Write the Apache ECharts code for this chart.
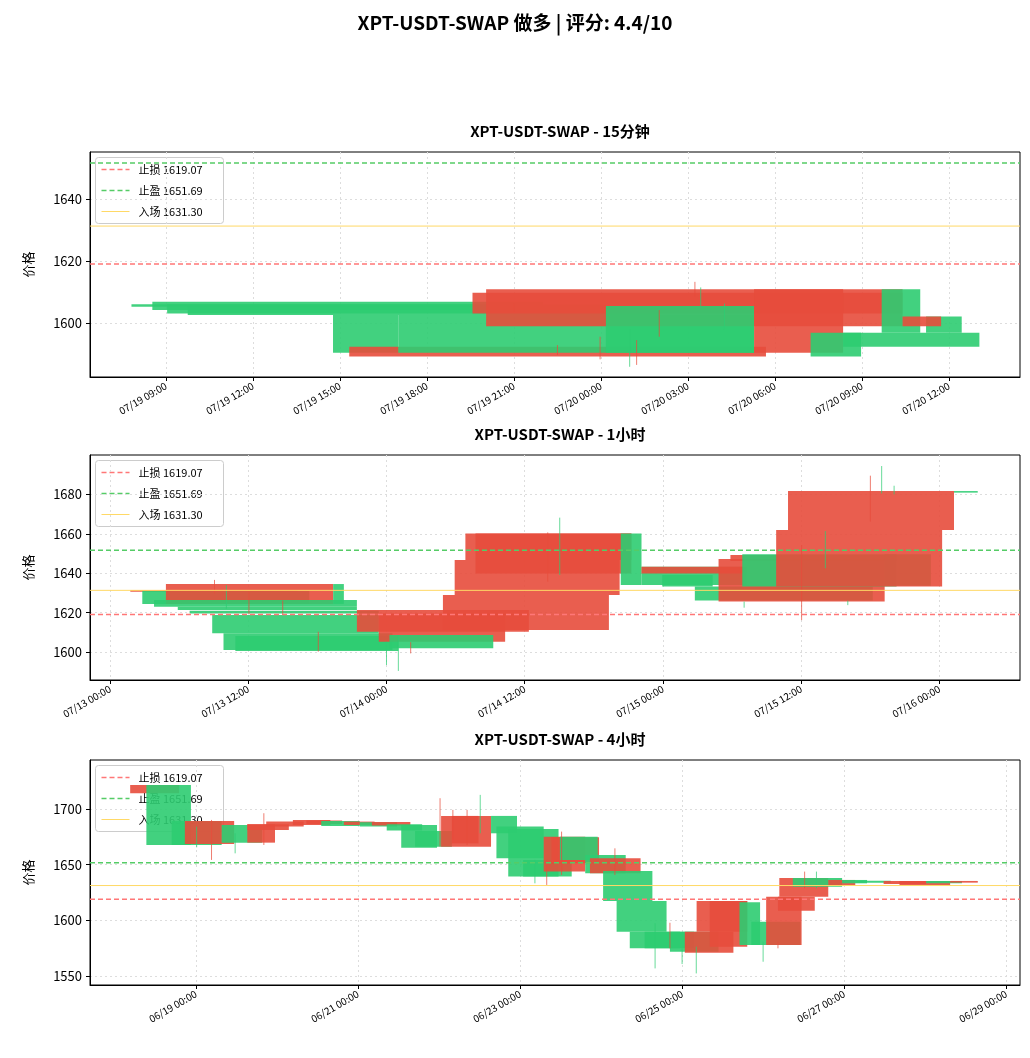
<!DOCTYPE html>
<html>
<head>
<meta charset="utf-8">
<script src="https://cdn.jsdelivr.net/npm/echarts@6/dist/echarts.min.js"></script>
<style>
  html, body { margin: 0; padding: 0; background: #fff; }
  #main { width: 1030px; height: 1058px; }
</style>
</head>
<body>
<div id="main"></div>
<script>
/**
 * 数据（时间单位：小时，相对各面板基准时间）
 */
var TITLE = 'XPT-USDT-SWAP 做多 | 评分: 4.4/10';
var panelTitles = ['XPT-USDT-SWAP - 15分钟', 'XPT-USDT-SWAP - 1小时', 'XPT-USDT-SWAP - 4小时'];
var baseTimes = [Date.UTC(2025, 6, 19, 9, 0), Date.UTC(2025, 6, 13, 0, 0), Date.UTC(2025, 5, 19, 0, 0)];
var stopLoss = 1619.07, takeProfit = 1651.69, entry = 1631.30;

// [开始小时, 结束小时, 开盘, 收盘]
var candles15m = [
  [-1.19, 10.57, 1605.3, 1606.1], [-0.47, 13.0, 1604.2, 1606.9], [0.04, 15.17, 1603.1, 1606.1],
  [0.75, 17.0, 1602.6, 1605.3], [5.76, 8.01, 1590.4, 1602.6], [6.32, 20.69, 1592.4, 1589.2],
  [8.01, 20.28, 1590.4, 1602.6], [10.57, 25.4, 1609.8, 1603.1], [11.04, 25.4, 1610.9, 1599.0],
  [15.17, 20.28, 1590.4, 1605.5], [20.28, 23.35, 1610.9, 1590.4], [22.23, 23.97, 1589.2, 1596.9],
  [23.35, 28.05, 1592.4, 1596.9], [24.68, 26.01, 1596.9, 1610.9], [26.21, 27.44, 1596.9, 1602.1],
  [25.4, 26.73, 1602.1, 1599.0]
];
// [小时, 最高, 最低, 涨跌(1涨0跌)]
var wicks15m = [
  [18.24, 1613.3, 1608.5, 0], [18.44, 1611.5, 1605.3, 1], [15.99, 1597.8, 1585.9, 1],
  [16.23, 1594.5, 1586.5, 0], [14.97, 1595.6, 1588.3, 0], [17.01, 1604.2, 1595.6, 0],
  [19.26, 1606.3, 1597.8, 1], [12.0, 1606.3, 1603.6, 0], [13.5, 1592.9, 1589.7, 0]
];

var candles1h = [
  [1.76, 16.28, 1631.5, 1630.6], [2.8, 17.3, 1624.4, 1631.0], [4.85, 19.37, 1634.5, 1624.4],
  [19.37, 20.3, 1624.4, 1634.5], [3.82, 21.43, 1623.0, 1626.4], [5.88, 21.43, 1621.3, 1623.0],
  [6.91, 23.33, 1619.6, 1621.0], [8.87, 23.33, 1609.5, 1618.8], [9.85, 24.52, 1601.0, 1609.5],
  [10.88, 25.03, 1600.5, 1608.1], [21.43, 36.36, 1621.3, 1610.3], [23.33, 34.3, 1619.6, 1605.2],
  [24.26, 33.27, 1601.9, 1608.6], [28.9, 43.31, 1628.9, 1611.2], [29.92, 44.24, 1646.7, 1628.9],
  [30.85, 45.26, 1660.2, 1646.7], [31.73, 45.26, 1660.2, 1639.9], [44.34, 46.14, 1634.0, 1660.2],
  [46.14, 55.25, 1634.0, 1643.3], [46.14, 55.25, 1643.3, 1639.9], [47.94, 52.32, 1633.2, 1639.1],
  [50.77, 66.22, 1626.1, 1633.2], [52.83, 67.25, 1647.2, 1625.6], [53.86, 68.28, 1649.2, 1646.2],
  [54.89, 68.28, 1633.2, 1649.6], [67.25, 71.26, 1633.7, 1649.6], [57.83, 72.24, 1661.9, 1633.2],
  [58.86, 73.27, 1681.7, 1661.9], [73.27, 75.33, 1680.9, 1681.7]
];
var wicks1h = [
  [9.07, 1636.6, 1629.8, 0], [12.06, 1630.6, 1619.1, 0], [14.99, 1626.1, 1619.1, 0],
  [10.1, 1634.0, 1622.0, 1], [18.08, 1610.3, 1600.2, 0], [24.0, 1605.2, 1593.4, 1],
  [25.03, 1608.6, 1590.4, 1], [26.1, 1605.0, 1599.3, 0], [39.04, 1668.2, 1639.1, 1],
  [38.0, 1660.7, 1635.7, 0], [66.01, 1689.5, 1666.2, 0], [66.99, 1694.4, 1680.5, 1],
  [68.07, 1684.4, 1680.0, 1], [60.04, 1654.3, 1616.2, 0], [62.1, 1661.4, 1642.5, 1],
  [55.05, 1625.6, 1622.5, 1], [64.05, 1626.1, 1623.8, 1]
];

var candles4h = [
  [-19.5, -5.0, 1721.6, 1714.2], [-14.7, -1.5, 1667.7, 1721.6], [-7.2, 7.6, 1667.7, 1689.3],
  [-3.3, 11.3, 1689.3, 1668.6], [7.6, 19.6, 1669.8, 1685.7], [15.2, 23.4, 1686.3, 1669.8],
  [15.2, 27.5, 1686.3, 1681.2], [20.8, 31.9, 1688.7, 1684.2], [28.7, 39.8, 1690.2, 1685.7],
  [32.7, 43.3, 1689.6, 1686.6], [37.1, 48.5, 1684.8, 1689.3], [43.8, 52.9, 1688.7, 1685.7],
  [48.5, 59.6, 1684.2, 1688.1], [52.1, 63.5, 1688.4, 1685.1], [56.5, 67.0, 1680.6, 1686.3],
  [60.8, 71.4, 1665.3, 1685.7], [64.9, 75.8, 1666.2, 1680.3], [72.6, 87.4, 1693.8, 1666.2],
  [75.8, 83.7, 1693.8, 1669.2], [87.4, 95.1, 1678.2, 1693.8], [89.0, 103.0, 1655.8, 1684.2],
  [92.5, 107.4, 1639.3, 1682.1], [96.9, 111.3, 1639.3, 1654.3], [103.0, 115.3, 1675.2, 1643.8],
  [105.3, 119.4, 1674.6, 1651.3], [107.8, 119.0, 1654.3, 1675.2], [115.3, 127.3, 1642.3, 1658.8],
  [116.7, 131.7, 1655.8, 1642.3], [120.6, 135.2, 1617.4, 1644.4], [124.6, 139.4, 1589.9, 1617.4],
  [128.5, 143.4, 1574.9, 1589.9], [132.9, 147.5, 1574.9, 1589.9], [140.4, 154.8, 1571.9, 1589.9],
  [144.8, 159.2, 1589.9, 1571.0], [148.3, 163.3, 1617.4, 1589.9], [152.2, 163.3, 1617.4, 1576.4],
  [161.0, 167.1, 1577.9, 1616.2], [164.5, 179.1, 1577.9, 1598.8], [168.9, 179.4, 1621.3, 1577.9],
  [172.4, 183.3, 1621.3, 1608.7], [172.8, 187.3, 1638.1, 1621.3], [176.8, 191.4, 1630.3, 1638.1],
  [187.3, 195.3, 1636.3, 1631.8], [191.4, 198.8, 1633.3, 1636.3], [195.3, 205.8, 1633.9, 1635.7],
  [203.7, 216.3, 1635.4, 1632.7], [208.4, 223.4, 1635.4, 1631.8], [216.3, 226.9, 1633.3, 1635.4],
  [223.4, 231.6, 1635.4, 1633.9]
];
var wicks4h = [
  [0.2, 1684.2, 1665.6, 1], [4.6, 1690.2, 1654.3, 0], [11.6, 1678.2, 1660.2, 1],
  [20.1, 1696.2, 1667.7, 0], [72.3, 1709.7, 1666.2, 0], [76.1, 1699.2, 1672.2, 0],
  [80.3, 1699.2, 1667.7, 0], [84.2, 1712.7, 1678.2, 1], [103.9, 1654.3, 1631.8, 0],
  [100.4, 1654.3, 1633.3, 1], [108.3, 1679.7, 1640.8, 0], [124.1, 1664.7, 1640.8, 0],
  [136.0, 1597.4, 1556.9, 1], [140.4, 1597.9, 1574.9, 0], [144.0, 1574.9, 1560.8, 1],
  [148.2, 1576.4, 1552.4, 1], [168.0, 1580.9, 1562.9, 1], [172.4, 1580.9, 1574.9, 0],
  [180.3, 1643.8, 1628.8, 0], [183.8, 1643.8, 1628.8, 1]
];

// 坐标轴范围与刻度
var xRanges = [[-2.62, 29.45], [-1.74, 79.0], [-31.4, 244.1]];
var yRanges = [[1582.6, 1655.2], [1585.8, 1700], [1542, 1744]];
var xTicks = [[0, 3, 6, 9, 12, 15, 18, 21, 24, 27], [0, 12, 24, 36, 48, 60, 72], [0, 48, 96, 144, 192, 240]];
var yTicks = [[1600, 1620, 1640], [1600, 1620, 1640, 1660, 1680], [1550, 1600, 1650, 1700]];

/**
 * 绘图
 */
var UP = 'rgba(46,204,113,0.9)', DOWN = 'rgba(231,76,60,0.9)';
var FONT = 'Noto Sans CJK SC';
var gridTops = [152, 455, 760];
var lineNames = ['止损 1619.07', '止盈 1651.69', '入场 1631.30'];
var lineStyles = [
  { color: '#ff7777', width: 1.5, type: [5, 3] },
  { color: '#55cc66', width: 1.5, type: [5, 3] },
  { color: '#ffd966', width: 1, type: 'solid' }
];

function pad(n) { return (n < 10 ? '0' : '') + n; }
function fmtTime(base, h) {
  var d = new Date(base + h * 3600000);
  return pad(d.getUTCMonth() + 1) + '/' + pad(d.getUTCDate()) + ' ' + pad(d.getUTCHours()) + ':' + pad(d.getUTCMinutes());
}

function renderCandle(params, api) {
  var o = api.value(2), c = api.value(3);
  var p1 = api.coord([api.value(0), Math.max(o, c)]);
  var p2 = api.coord([api.value(1), Math.min(o, c)]);
  var shape = echarts.graphic.clipRectByRect(
    { x: p1[0], y: p1[1], width: p2[0] - p1[0], height: Math.max(p2[1] - p1[1], 1) },
    params.coordSys);
  return shape && { type: 'rect', shape: shape, style: { fill: c >= o ? UP : DOWN } };
}
function renderWick(params, api) {
  var p1 = api.coord([api.value(0), api.value(1)]);
  var p2 = api.coord([api.value(0), api.value(2)]);
  return { type: 'line', shape: { x1: p1[0], y1: p1[1], x2: p2[0], y2: p2[1] },
    style: { stroke: api.value(3) ? UP : DOWN, lineWidth: 1, opacity: 0.8 } };
}

// 图例（每个面板左上角）
function legendBox(top) {
  var children = [{ type: 'rect', shape: { x: 0, y: 0, width: 128, height: 66, r: 3 },
    style: { fill: 'rgba(255,255,255,0.8)', stroke: '#ccc', lineWidth: 1 } }];
  for (var k = 0; k < 3; k++) {
    var y = 12 + k * 21;
    children.push({ type: 'line', shape: { x1: 6, y1: y, x2: 34, y2: y },
      style: { stroke: lineStyles[k].color, lineWidth: lineStyles[k].width,
        lineDash: lineStyles[k].type === 'solid' ? null : lineStyles[k].type } });
    children.push({ type: 'text', x: 43, y: y, style: { text: lineNames[k], fontSize: 11,
      fontFamily: FONT, fill: '#000', verticalAlign: 'middle' } });
  }
  return { type: 'group', left: 95, top: top + 5, z: 100, children: children };
}

var myChart = echarts.init(document.getElementById('main'));
var candleSets = [candles15m, candles1h, candles4h];
var wickSets = [wicks15m, wicks1h, wicks4h];
var grid = [], xAxis = [], yAxis = [], series = [], graphic = [], title = [];

title.push({ text: TITLE, left: 'center', top: 8,
  textStyle: { fontSize: 19, fontWeight: 'bold', color: '#000', fontFamily: FONT } });

for (var i = 0; i < 3; i++) {
  var base = baseTimes[i];
  grid.push({ left: 90, width: 930, top: gridTops[i], height: 225, show: true,
    borderColor: '#000', borderWidth: 1, backgroundColor: '#fff' });
  title.push({ text: panelTitles[i], left: 555, textAlign: 'center', top: gridTops[i] - 33,
    textStyle: { fontSize: 15, fontWeight: 'bold', color: '#000', fontFamily: FONT } });
  xAxis.push({ type: 'value', gridIndex: i, min: xRanges[i][0], max: xRanges[i][1],
    axisLine: { onZero: false, lineStyle: { color: '#000' } },
    axisTick: { customValues: xTicks[i], length: 4, lineStyle: { color: '#000' } },
    axisLabel: { customValues: xTicks[i], rotate: 30, fontSize: 10, color: '#000', margin: 8,
      fontFamily: FONT,
      formatter: (function (b) { return function (v) { return fmtTime(b, v); }; })(base) },
    splitLine: { show: true, lineStyle: { color: '#ddd', type: [2, 3] } } });
  yAxis.push({ type: 'value', gridIndex: i, min: yRanges[i][0], max: yRanges[i][1],
    name: '价格', nameLocation: 'middle', nameGap: 55, nameRotate: 90,
    nameTextStyle: { fontSize: 13, color: '#000', fontFamily: FONT },
    axisLine: { show: true, onZero: false, lineStyle: { color: '#000' } },
    axisTick: { show: true, customValues: yTicks[i], length: 4, lineStyle: { color: '#000' } },
    axisLabel: { customValues: yTicks[i], fontSize: 13, color: '#000', fontFamily: FONT,
      formatter: function (v) { return String(v); } },
    splitLine: { show: true, lineStyle: { color: '#ddd', type: [2, 3] } } });

  series.push({ type: 'custom', xAxisIndex: i, yAxisIndex: i, renderItem: renderCandle,
    encode: { x: [0, 1], y: [2, 3] }, data: candleSets[i], silent: true });
  series.push({ type: 'custom', xAxisIndex: i, yAxisIndex: i, renderItem: renderWick,
    encode: { x: 0, y: [1, 2] }, data: wickSets[i], silent: true });

  var lv = [stopLoss, takeProfit, entry];
  for (var k = 0; k < 3; k++) {
    series.push({ type: 'line', name: lineNames[k], xAxisIndex: i, yAxisIndex: i,
      data: [[xRanges[i][0], lv[k]], [xRanges[i][1], lv[k]]], symbol: 'none',
      lineStyle: lineStyles[k], silent: true, z: 3 });
  }
  graphic.push(legendBox(gridTops[i]));
}

myChart.setOption({
  animation: false,
  backgroundColor: '#fff',
  title: title,
  grid: grid,
  xAxis: xAxis,
  yAxis: yAxis,
  series: series,
  graphic: graphic
});
</script>
</body>
</html>
